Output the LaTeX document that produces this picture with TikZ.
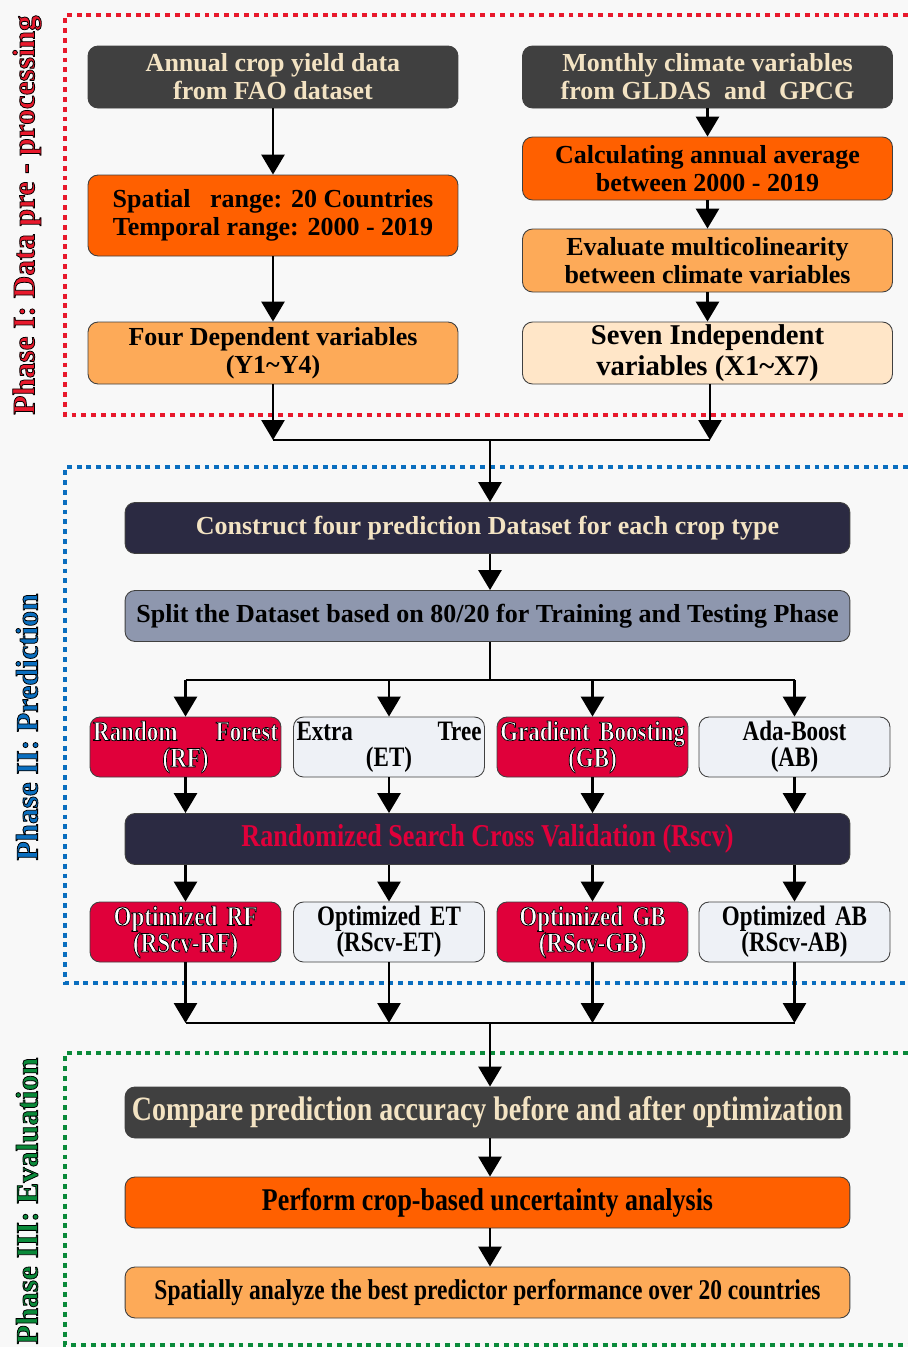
\documentclass[tikz,border=0pt]{standalone}
\usepackage{fontspec}
\setmainfont{Liberation Serif}
\newfontfamily\narrowfont[FakeStretch=0.82]{Liberation Serif}
\usetikzlibrary{arrows.meta,positioning}

\definecolor{pagebg}{HTML}{F8F8F8}
\definecolor{boxgray}{HTML}{404040}
\definecolor{cream}{HTML}{F3E3C3}
\definecolor{deeporange}{HTML}{FF6000}
\definecolor{lightorange}{HTML}{FDAA58}
\definecolor{paleorange}{HTML}{FFE6C8}
\definecolor{navy}{HTML}{2B2A42}
\definecolor{splitblue}{HTML}{8E97AE}
\definecolor{crimson}{HTML}{E0003A}
\definecolor{lightbox}{HTML}{EEF1F6}
\definecolor{framered}{HTML}{E8192C}
\definecolor{frameblue}{HTML}{0A6EBF}
\definecolor{framegreen}{HTML}{0A8A3A}

% coloured text with a black outline
\newcommand\strokedtext[3][0.5]{{\color{#2}\special{pdf:literal direct 0 0 0 RG 2 Tr #1 w}#3\special{pdf:literal direct 0 Tr}}}

\tikzset{
  box/.style={draw=black!75, rounded corners=0.2cm, line width=0.5pt, align=center,
    inner sep=1pt, font=\bfseries\fontsize{14.8}{16}\selectfont},
  darkbox/.style={box, fill=boxgray, text=cream},
  orangebox/.style={box, fill=deeporange},
  lightorangebox/.style={box, fill=lightorange},
  palebox/.style={box, fill=paleorange},
  navybox/.style={box, fill=navy, text=cream},
  splitbox/.style={box, fill=splitblue},
  wide/.style={minimum width=14.5cm, minimum height=1.02cm},
  half/.style={minimum width=7.4cm, minimum height=1.24cm},
  model/.style={box, minimum width=3.82cm, minimum height=1.2cm, text width=3.7cm, inner sep=0pt,
    font=\narrowfont\bfseries\fontsize{16}{15}\selectfont},
  redmodel/.style={model, fill=crimson},
  greymodel/.style={model, fill=lightbox},
  flow/.style={line width=1.6pt, -{Triangle[width=13pt,length=11.3pt]}},
  bar/.style={line width=1.6pt},
  phaseframe/.style={line width=2.4pt, dash pattern=on 2.8pt off 2.8pt},
  phaselabel/.style={rotate=90, inner sep=0pt, font=\bfseries\fontsize{17.8}{18}\selectfont}
}

\begin{document}
\begin{tikzpicture}[x=0.02cm, y=-0.02cm]
\fill[pagebg] (0,0) rectangle (908,1347);
\useasboundingbox (0,0) rectangle (908,1347);

% phase frames
\draw[phaseframe, draw=framered] (908,15) -- (65,15) -- (65,415) -- (908,415);
\draw[phaseframe, draw=frameblue] (908,467) -- (65,467) -- (65,983) -- (908,983);
\draw[phaseframe, draw=framegreen] (908,1053) -- (65,1053) -- (65,1345) -- (908,1345);

\node[phaselabel] (phaseone) at (27,215) {\strokedtext[0.45]{framered}{Phase I: Data pre - processing}};
\node[phaselabel] (phasetwo) at (27,727) {\strokedtext[0.45]{frameblue}{Phase II: Prediction}};
\node[phaselabel] (phasethree) at (27,1201) {\strokedtext[0.45]{framegreen}{Phase III: Evaluation}};

% phase I
\node[darkbox, half] (fao) at (273,77) {Annual crop yield data\\from FAO dataset};
\node[orangebox, half, minimum height=1.62cm] (range) at (273,215.5)
  {Spatial\ \ \ range: 20 Countries\\Temporal range: 2000 - 2019};
\node[lightorangebox, half] (dep) at (273,353) {Four Dependent variables\\(Y1\textasciitilde Y4)};

\node[darkbox, half] (gldas) at (707.5,77) {Monthly climate variables\\from GLDAS\ \ and\ \ GPCG};
\node[orangebox, half, minimum height=1.26cm] (avg) at (707.5,168.5) {Calculating annual average\\between 2000 - 2019};
\node[lightorangebox, half, minimum height=1.26cm] (multi) at (707.5,260.5) {Evaluate multicolinearity\\between climate variables};
\node[palebox, half, font=\bfseries\fontsize{16.3}{18}\selectfont] (indep) at (707.5,353)
  {Seven Independent\\variables (X1\textasciitilde X7)};

\draw[flow] (fao) -- (range);
\draw[flow] (range) -- (dep);
\draw[flow] (gldas) -- (avg);
\draw[flow] (avg) -- (multi);
\draw[flow] (multi) -- (indep);

\coordinate (depend) at (273,440);
\coordinate (independ) at (710,440);
\coordinate (joinone) at (490,440);
\draw[flow] (dep.south) -- (depend);
\draw[flow] (indep.south -| independ) -- (independ);
\draw[bar] (depend) -- (independ);

% phase II
\node[navybox, wide] (construct) at (487.5,528) {Construct four prediction Dataset for each crop type};
\node[splitbox, wide] (split) at (487.5,616) {Split the Dataset based on 80/20 for Training and Testing Phase};
\draw[flow] (joinone) -- (joinone |- construct.north);
\draw[flow] (construct.south -| joinone) -- (joinone |- split.north);

\node[redmodel] (rf) at (185.5,747) {\strokedtext[0.4]{white}{Random\hfill Forest\\\centering (RF)}};
\node[greymodel] (et) at (389,747) {Extra\hfill Tree\\\centering (ET)};
\node[redmodel] (gb) at (592.5,747) {\strokedtext[0.4]{white}{Gradient Boosting\\(GB)}};
\node[greymodel] (ab) at (794.5,747) {Ada-Boost\\(AB)};

\coordinate (splitjoin) at (490,680);
\draw[bar] (split.south -| splitjoin) -- (splitjoin);
\draw[bar] (rf.north |- splitjoin) -- (ab.north |- splitjoin);
\foreach \m in {rf,et,gb,ab}
  \draw[flow] (\m.north |- splitjoin) -- (\m.north);

\node[navybox, wide, font=\narrowfont\bfseries\fontsize{18.1}{18}\selectfont, text=crimson] (rscv) at (487.5,839)
  {Randomized Search Cross Validation (Rscv)};

\node[redmodel] (orf) at (185.5,932) {\strokedtext[0.4]{white}{Optimized RF\\(RScv-RF)}};
\node[greymodel] (oet) at (389,932) {Optimized ET\\(RScv-ET)};
\node[redmodel] (ogb) at (592.5,932) {\strokedtext[0.4]{white}{Optimized GB\\(RScv-GB)}};
\node[greymodel] (oab) at (794.5,932) {Optimized AB\\(RScv-AB)};

\foreach \m/\o in {rf/orf,et/oet,gb/ogb,ab/oab} {
  \draw[flow] (\m) -- (\m.south |- rscv.north);
  \draw[flow] (\m.south |- rscv.south) -- (\o);
}

\coordinate (jointwo) at (490,1023);
\foreach \o in {orf,oet,ogb,oab}
  \draw[flow] (\o) -- (\o.south |- jointwo);
\draw[bar] (orf.south |- jointwo) -- (oab.south |- jointwo);

% phase III
\node[darkbox, wide, font=\narrowfont\bfseries\fontsize{19.4}{20}\selectfont] (compare) at (487.5,1112.5)
  {Compare prediction accuracy before and after optimization};
\node[orangebox, wide, font=\narrowfont\bfseries\fontsize{18}{20}\selectfont] (uncert) at (487.5,1202.5)
  {Perform crop-based uncertainty analysis};
\node[lightorangebox, wide, font=\narrowfont\bfseries\fontsize{16.3}{18}\selectfont] (spatial) at (487.5,1292.5)
  {Spatially analyze the best predictor performance over 20 countries};

\draw[flow] (jointwo) -- (jointwo |- compare.north);
\draw[flow] (compare.south -| jointwo) -- (jointwo |- uncert.north);
\draw[flow] (uncert.south -| jointwo) -- (jointwo |- spatial.north);
\end{tikzpicture}
\end{document}
